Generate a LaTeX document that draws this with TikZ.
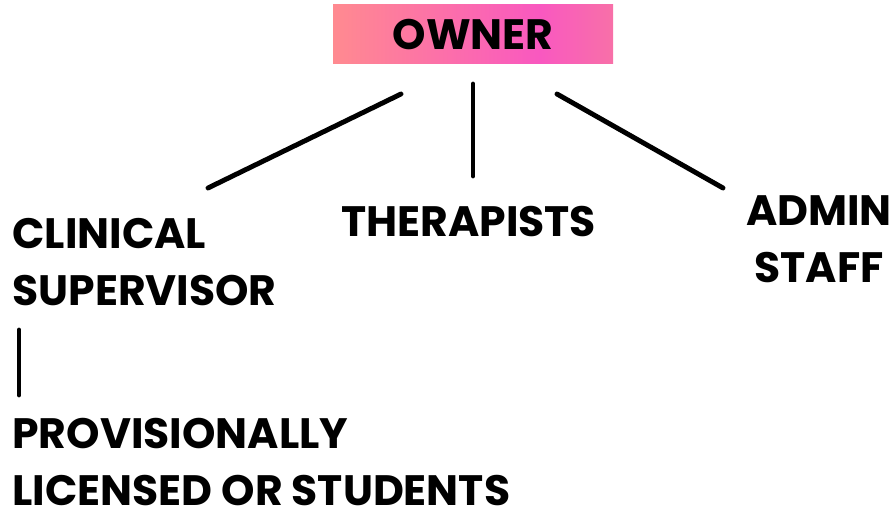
\documentclass[tikz,border=0pt]{standalone}
\usepackage{fontspec}
\setmainfont{Poppins}
\usetikzlibrary{positioning}
\definecolor{ownerL}{RGB}{255,138,144}
\definecolor{ownerM}{RGB}{249,88,192}
\definecolor{ownerR}{RGB}{248,112,168}
\pgfdeclarehorizontalshading{ownershade}{100bp}{color(0bp)=(ownerL); color(25bp)=(ownerL); color(62bp)=(ownerM); color(75bp)=(ownerR); color(100bp)=(ownerR)}
\tikzset{role/.style={font=\fontsize{24.2}{32.5}\selectfont\bfseries, inner sep=0pt, align=left}}
\tikzset{link/.style={line width=2.8pt, line cap=round}}

\begin{document}
\begin{tikzpicture}[x=0.02cm, y=-0.02cm]
  \useasboundingbox (0,0) rectangle (896,513);

  %%%% top box
  \node[role, shading=ownershade, minimum width=280*0.02cm, minimum height=59*0.02cm] (owner) at (473,34.5) {OWNER};

  %%%% roles
  \node[role, anchor=north west] (clinical) at (12,218) {CLINICAL\\SUPERVISOR};
  \node[role, anchor=north west] (therapists) at (341,206) {THERAPISTS};
  \node[role, anchor=north, align=center] (admin) at (819,195) {ADMIN\\STAFF};
  \node[role, anchor=north west] (provisional) at (12,418) {PROVISIONALLY\\LICENSED OR STUDENTS};

  %%%% line ends
  \coordinate (ownerL) at (401,94);
  \coordinate (ownerC) at (473,84);
  \coordinate (ownerR) at (557,94);
  \coordinate (clinicalT) at (208,188);
  \coordinate (therapistsT) at (473,176);
  \coordinate (adminT) at (723,188);
  \coordinate (clinicalB) at (19,330);
  \coordinate (provisionalT) at (19,395);

  \draw[link] (ownerL) -- (clinicalT);
  \draw[link] (ownerC) -- (therapistsT);
  \draw[link] (ownerR) -- (adminT);
  \draw[link] (clinicalB) -- (provisionalT);
\end{tikzpicture}
\end{document}
